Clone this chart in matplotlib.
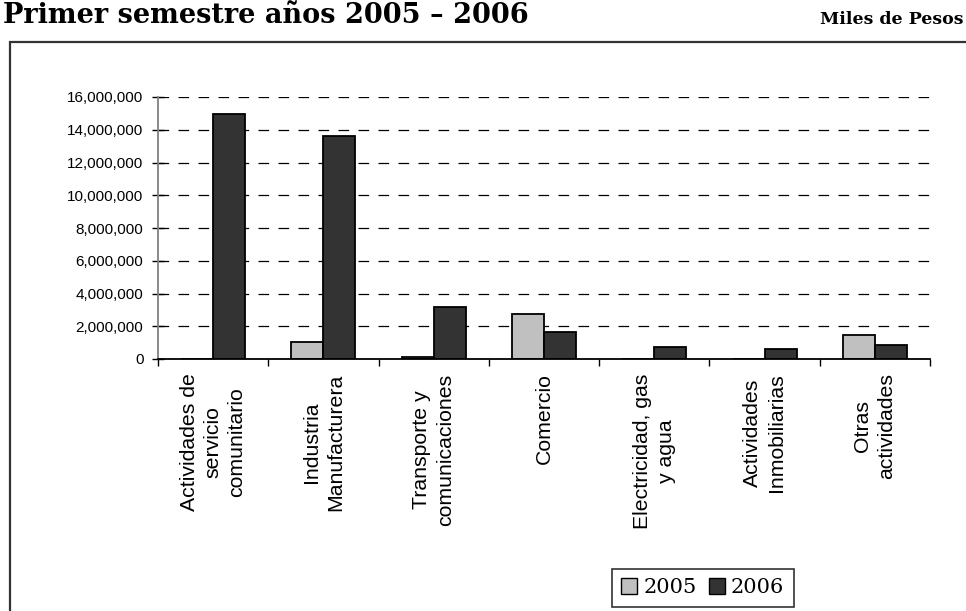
import matplotlib
matplotlib.use("Agg")
import matplotlib.pyplot as plt
from matplotlib.patches import Rectangle, Patch
import numpy as np

categories = ["Actividades de\nservicio\ncomunitario", "Industria\nManufacturera",
              "Transporte y\ncomunicaciones", "Comercio", "Electricidad, gas\ny agua",
              "Actividades\nInmobiliarias", "Otras\nactividades"]
v2005 = [0, 1050000, 150000, 2720000, 0, 0, 1440000]
v2006 = [14950000, 13600000, 3190000, 1660000, 730000, 610000, 850000]
series = ["2005", "2006"]
yticks = [0, 2000000, 4000000, 6000000, 8000000, 10000000, 12000000, 14000000, 16000000]

W, H = 966, 611
fig = plt.figure(figsize=(W / 100, H / 100), dpi=100)

# outer frame
fig.patches.append(Rectangle((10 / W, -0.05), 1.2, 1 - 42 / H + 0.05, transform=fig.transFigure,
                             fill=False, edgecolor="#333333", linewidth=1.6, zorder=0))

fig.text(3 / W, 1 - 23 / H, "Primer semestre años 2005 – 2006", fontfamily="DejaVu Serif",
         fontweight="bold", fontsize=19.5, va="baseline", ha="left")
fig.text(963 / W, 1 - 24 / H, "Miles de Pesos", fontfamily="DejaVu Serif",
         fontweight="bold", fontsize=12.5, va="baseline", ha="right")

ax = fig.add_axes([158 / W, 1 - 359 / H, (930 - 158) / W, (359 - 97) / H])
x = np.arange(len(categories))
bw = 0.29
ax.bar(x - bw / 2, v2005, bw, color="#c0c0c0", edgecolor="black", linewidth=1.3, zorder=3)
ax.bar(x + bw / 2, v2006, bw, color="#333333", edgecolor="black", linewidth=1.3, zorder=3)

ax.set_xlim(-0.5, len(categories) - 0.5)
ax.set_ylim(0, 16000000)
ax.set_yticks(yticks)
ax.set_yticklabels([f"{v:,}" for v in yticks], fontfamily="Liberation Sans", fontsize=11)
ax.tick_params(axis="y", direction="inout", length=9, width=1, pad=6)
for y in yticks[1:]:
    ax.axhline(y, color="black", linestyle=(0, (8.5, 7.5)), linewidth=0.9, zorder=1)

ax.set_xticks(x)
ax.set_xticklabels([])
ax.set_xticks(np.arange(-0.5, len(categories)), minor=True)
ax.tick_params(axis="x", which="major", length=0)
ax.tick_params(axis="x", which="minor", direction="out", length=5, width=1)
for xi, lab in zip(x, categories):
    ax.text(xi, -0.055, lab, transform=ax.get_xaxis_transform(), rotation=90,
            ha="center", va="top", multialignment="center", fontfamily="Liberation Sans",
            fontsize=15.3, linespacing=1.32)

for s in ["top", "right"]:
    ax.spines[s].set_visible(False)
ax.spines["left"].set_color("#808080")
ax.spines["left"].set_linewidth(1.3)
ax.spines["bottom"].set_color("black")
ax.spines["bottom"].set_linewidth(1.3)
ax.spines["bottom"].set_zorder(4)

handles = [Patch(facecolor="#c0c0c0", edgecolor="black", linewidth=1),
           Patch(facecolor="#333333", edgecolor="black", linewidth=1)]
leg = fig.legend(handles, series, loc="upper left", bbox_to_anchor=(612 / W, 1 - 569 / H),
                 ncol=2, frameon=True, fancybox=False, prop={"family": "DejaVu Serif", "size": 15},
                 handlelength=0.75, handleheight=0.75, handletextpad=0.3, columnspacing=0.6,
                 borderpad=0.45, borderaxespad=0)
leg.get_frame().set_edgecolor("black")
leg.get_frame().set_linewidth(1.2)

fig.savefig("out.png", dpi=100)
